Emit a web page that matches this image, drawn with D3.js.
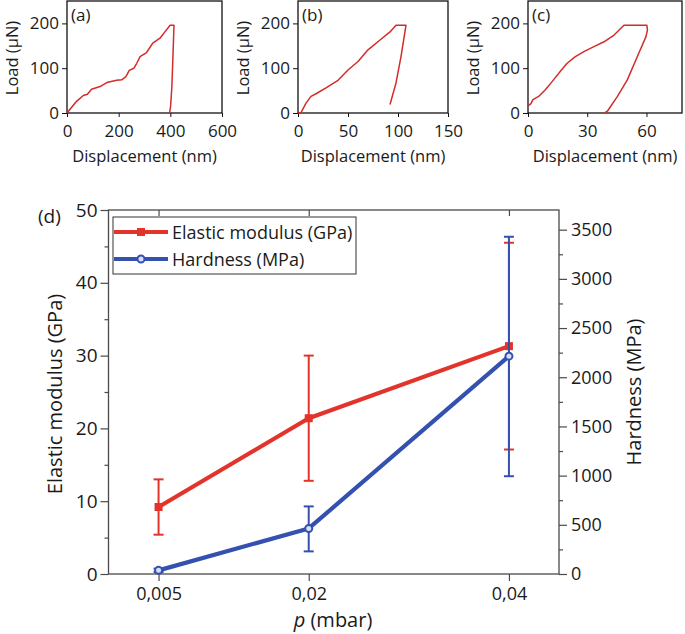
<!DOCTYPE html>
<html>
<head>
<meta charset="utf-8">
<script src="https://cdn.jsdelivr.net/npm/d3@7/dist/d3.min.js"></script>
<style>
  html, body { margin: 0; padding: 0; background: #fff; }
  svg text { font-family: "Open Sans", "Noto Sans", sans-serif; fill: #1a1a1a; }
</style>
</head>
<body>
<svg id="chart" width="685" height="634"></svg>
<script>
// ---------- Data ----------
// Panel (a): load-displacement
const dispA = [0, 18, 37, 63, 79, 95, 128, 154, 192, 212, 228, 241, 259, 270, 283, 308, 332, 360, 379, 399, 414, 414, 411, 406, 401, 397];
const loadA = [0, 13, 26, 39, 42, 53, 59, 68, 73, 74, 81, 95, 100, 111, 126, 135, 156, 167, 181, 196, 196, 193, 141, 59, 15, 0];
// Panel (b)
const dispB = [0, 3, 8, 13, 18, 28, 40, 50, 60, 70, 82, 92, 98, 108, 103, 98, 92];
const loadB = [0, 1, 22, 37, 43, 56, 73, 96, 115, 141, 163, 181, 196, 196, 126, 67, 19];
// Panel (c)
const dispC = [0, 1.5, 2.5, 5.4, 8.8, 12.2, 16.4, 19.8, 24, 28.3, 33.4, 38.5, 43.6, 48.6, 60.2, 60.5, 59.7, 55.4, 50.3, 45.3, 40.2, 38.8];
const loadC = [16, 21, 30, 37, 52, 70, 93, 111, 126, 137, 148, 159, 174, 196, 196, 185, 170, 126, 74, 37, 4, 0];
const smallYTicks = [0, 100, 200];
const smallXTicksA = [0, 200, 400, 600];
const smallXTicksB = [0, 50, 100, 150];
const smallXTicksC = [0, 30, 60];

// Panel (d)
const pressure = [0.005, 0.02, 0.04];
const pressureLabels = ["0,005", "0,02", "0,04"];
const modulus = [9.2, 21.4, 31.3];
const modulusLow = [5.4, 12.8, 17.1];
const modulusHigh = [13.0, 30.0, 45.5];
const hardness = [37, 463, 2214];
const hardnessLow = [20, 230, 994];
const hardnessHigh = [55, 687, 3428];
const leftTicks = [0, 10, 20, 30, 40, 50];
const leftMinor = [5, 15, 25, 35, 45];
const rightTicks = [0, 500, 1000, 1500, 2000, 2500, 3000, 3500];
const rightMinor = [250, 750, 1250, 1750, 2250, 2750, 3250];
const seriesNames = ["Elastic modulus (GPa)", "Hardness (MPa)"];

// ---------- Drawing ----------
const svg = d3.select("#chart");
const RED = "#e3342b";
const BLUE = "#3451b0";
const CURVE = "#d42b2b";

function smallPanel(cfg) {
  const x = d3.scaleLinear(cfg.xDomain, [cfg.x0, cfg.x1]);
  const y = d3.scaleLinear([0, 250], [113, 1]);
  const g = svg.append("g");
  g.append("rect").attr("x", cfg.x0).attr("y", 1).attr("width", cfg.x1 - cfg.x0).attr("height", 112)
    .attr("fill", "none").attr("stroke", "#111").attr("stroke-width", 1.3);
  const ya = g.append("g").attr("transform", `translate(${cfg.x0},0)`)
    .call(d3.axisLeft(y).tickValues(smallYTicks).tickSize(5).tickPadding(3));
  const xa = g.append("g").attr("transform", `translate(0,113)`)
    .call(d3.axisBottom(x).tickValues(cfg.xTicks).tickSize(4).tickPadding(8));
  [ya, xa].forEach(a => {
    a.select(".domain").remove();
    a.selectAll("line").attr("stroke", "#111");
    a.selectAll("text").style("font-size", "17px").attr("fill", "#1a1a1a");
  });
  g.append("text").attr("transform", `translate(${cfg.x0 - 49},58) rotate(-90)`)
    .attr("text-anchor", "middle").style("font-size", "16.5px").text("Load (μN)");
  g.append("text").attr("x", (cfg.x0 + cfg.x1) / 2).attr("y", 162)
    .attr("text-anchor", "middle").style("font-size", "16.5px").text("Displacement (nm)");
  g.append("text").attr("x", cfg.x0 + 4).attr("y", 21).style("font-size", "17px").text(cfg.label);
  const pts = cfg.xs.map((d, i) => [d, cfg.ys[i]]);
  g.append("path").datum(pts)
    .attr("d", d3.line().x(d => x(d[0])).y(d => y(d[1])))
    .attr("fill", "none").attr("stroke", CURVE).attr("stroke-width", 1.5).attr("stroke-linejoin", "round");
}

smallPanel({ x0: 67, x1: 222, xDomain: [0, 600], xTicks: smallXTicksA, xs: dispA, ys: loadA, label: "(a)" });
smallPanel({ x0: 298, x1: 448, xDomain: [0, 150], xTicks: smallXTicksB, xs: dispB, ys: loadB, label: "(b)" });
smallPanel({ x0: 528, x1: 682, xDomain: [0, 78], xTicks: smallXTicksC, xs: dispC, ys: loadC, label: "(c)" });

// Main panel
const L = 108.5, R = 559, T = 210, B = 574;
const x = d3.scaleLinear([0, 0.045], [L, R]);
const yL = d3.scaleLinear([0, 50], [B, T]);
const yR = d3.scaleLinear([0, 3700], [B, T]);
const AX = "#4a4a4a";

const gd = svg.append("g");
function styleAxis(a, fs) {
  a.select(".domain").remove();
  a.selectAll("line").attr("stroke", AX).attr("stroke-width", 1.2);
  a.selectAll("text").style("font-size", fs + "px").attr("fill", "#1a1a1a");
}
const lm = gd.append("g").attr("transform", `translate(${L},0)`).call(d3.axisLeft(yL).tickValues(leftMinor).tickSize(4).tickFormat(""));
styleAxis(lm, 19);
const la = gd.append("g").attr("transform", `translate(${L},0)`).call(d3.axisLeft(yL).tickValues(leftTicks).tickSize(8).tickPadding(3));
styleAxis(la, 19);
const rm = gd.append("g").attr("transform", `translate(${R},0)`).call(d3.axisRight(yR).tickValues(rightMinor).tickSize(4).tickFormat(""));
styleAxis(rm, 18);
const ra = gd.append("g").attr("transform", `translate(${R},0)`).call(d3.axisRight(yR).tickValues(rightTicks).tickSize(8).tickPadding(4).tickFormat(d3.format("d")));
styleAxis(ra, 18);
const ba = gd.append("g").attr("transform", `translate(0,${B})`).call(d3.axisBottom(x).tickValues(pressure).tickSize(7).tickPadding(6).tickFormat((d, i) => pressureLabels[i]));
styleAxis(ba, 18);
const ta = gd.append("g").attr("transform", `translate(0,${T})`).call(d3.axisBottom(x).tickValues(pressure).tickSize(6).tickFormat(""));
styleAxis(ta, 18);
gd.append("rect").attr("x", L).attr("y", T).attr("width", R - L).attr("height", B - T)
  .attr("fill", "none").attr("stroke", AX).attr("stroke-width", 1.3);

// axis titles
gd.append("text").attr("transform", `translate(62,394) rotate(-90)`).attr("text-anchor", "middle")
  .style("font-size", "20px").text("Elastic modulus (GPa)");
gd.append("text").attr("transform", `translate(641,392) rotate(-90)`).attr("text-anchor", "middle")
  .style("font-size", "20px").text("Hardness (MPa)");
const xt = gd.append("text").attr("x", 333).attr("y", 627).attr("text-anchor", "middle").style("font-size", "20px");
xt.append("tspan").style("font-style", "italic").text("p");
xt.append("tspan").text(" (mbar)");
gd.append("text").attr("x", 38).attr("y", 223).style("font-size", "19px").text("(d)");

// series
function drawSeries(vals, lows, highs, yS, color, marker) {
  const g = gd.append("g");
  g.append("path").datum(vals)
    .attr("d", d3.line().x((d, i) => x(pressure[i])).y(d => yS(d)))
    .attr("fill", "none").attr("stroke", color).attr("stroke-width", 4.2).attr("stroke-linejoin", "round");
  const eb = g.selectAll(".eb").data(vals).enter().append("g");
  eb.append("line").attr("x1", (d, i) => x(pressure[i])).attr("x2", (d, i) => x(pressure[i]))
    .attr("y1", (d, i) => yS(lows[i])).attr("y2", (d, i) => yS(highs[i]))
    .attr("stroke", color).attr("stroke-width", 2);
  [lows, highs].forEach(arr => {
    eb.append("line").attr("x1", (d, i) => x(pressure[i]) - 5).attr("x2", (d, i) => x(pressure[i]) + 5)
      .attr("y1", (d, i) => yS(arr[i])).attr("y2", (d, i) => yS(arr[i]))
      .attr("stroke", color).attr("stroke-width", 2);
  });
  if (marker === "square") {
    g.selectAll(".m").data(vals).enter().append("rect")
      .attr("x", (d, i) => x(pressure[i]) - 4).attr("y", d => yS(d) - 4)
      .attr("width", 8).attr("height", 8).attr("fill", color);
  } else {
    g.selectAll(".m").data(vals).enter().append("circle")
      .attr("cx", (d, i) => x(pressure[i])).attr("cy", d => yS(d)).attr("r", 3.5)
      .attr("fill", "#d8def5").attr("stroke", color).attr("stroke-width", 2);
  }
}
drawSeries(modulus, modulusLow, modulusHigh, yL, RED, "square");
drawSeries(hardness, hardnessLow, hardnessHigh, yR, BLUE, "circle");

// legend
const lg = gd.append("g");
lg.append("rect").attr("x", 113).attr("y", 217).attr("width", 243).attr("height", 57)
  .attr("fill", "#fff").attr("stroke", "#333").attr("stroke-width", 1);
const legendItems = [{ name: seriesNames[0], color: RED, marker: "square", y: 232 },
                     { name: seriesNames[1], color: BLUE, marker: "circle", y: 259 }];
legendItems.forEach(it => {
  lg.append("line").attr("x1", 114).attr("x2", 168).attr("y1", it.y).attr("y2", it.y)
    .attr("stroke", it.color).attr("stroke-width", 4.2);
  if (it.marker === "square") {
    lg.append("rect").attr("x", 137).attr("y", it.y - 4).attr("width", 8).attr("height", 8).attr("fill", it.color);
  } else {
    lg.append("circle").attr("cx", 141).attr("cy", it.y).attr("r", 3.5).attr("fill", "#d8def5")
      .attr("stroke", it.color).attr("stroke-width", 2);
  }
  lg.append("text").attr("x", 172).attr("y", it.y + 6.5).style("font-size", "18px").text(it.name);
});
</script>
</body>
</html>
